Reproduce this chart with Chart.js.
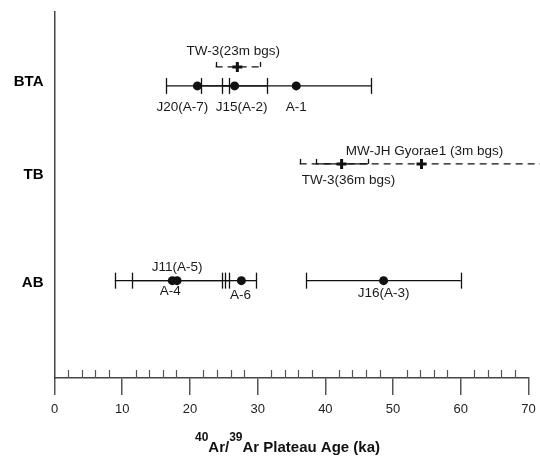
<!DOCTYPE html>
<html>
<head>
<meta charset="utf-8">
<script src="https://cdn.jsdelivr.net/npm/chart.js@4.4.0/dist/chart.umd.min.js"></script>
<style>
  html, body { margin: 0; padding: 0; background: #fff; }
  #wrap { width: 540px; height: 456px; position: relative; }
</style>
</head>
<body>
<div id="wrap"><canvas id="ageChart"></canvas></div>
<script>
// ===== Data =====
const rowNames = ['BTA', 'TB', 'AB'];
const rowTickValues = [81, 55.5, 26];

// outcrop samples (filled circles)
const outcropNames = ['J20(A-7)', 'J15(A-2)', 'A-1', 'A-4', 'J11(A-5)', 'A-6', 'J16(A-3)'];
const outcropLevel = [79.8, 79.8, 79.8, 26.6, 26.6, 26.6, 26.6];
const outcropAge = [21.1, 26.6, 35.7, 17.4, 18.1, 27.6, 48.6];
const outcropLow = [16.5, 21.7, 24.8, 8.9, 11.5, 25.2, 37.2];
const outcropHigh = [25.8, 31.4, 46.8, 25.7, 24.7, 29.8, 60.0];

// borehole samples (crosses)
const boreholeNames = ['TW-3(23m bgs)', 'TW-3(36m bgs)', 'MW-JH Gyorae1 (3m bgs)'];
const boreholeLevel = [85, 58.5, 58.5];
const boreholeAge = [27.0, 42.4, 54.2];
const boreholeLow = [23.8, 38.6, 36.2];
const boreholeHigh = [30.3, 46.3, 72.2];

const xTitleParts = [['40', true], ['Ar/', false], ['39', true], ['Ar Plateau Age (ka)', false]];

// ===== Styles =====
const FONT = "Arial, 'Liberation Sans', Helvetica, sans-serif";
const INK = '#111';
const dashedBars = ['TW-3(23m bgs)', 'MW-JH Gyorae1 (3m bgs)'];
// label offset from the marker, in px
const labelOffsets = {
    'J20(A-7)': [-15, 21.5],
    'J15(A-2)': [7, 21.5],
    'A-1': [0, 21.5],
    'A-4': [-2, 11],
    'J11(A-5)': [0, -13],
    'A-6': [-1, 15],
    'J16(A-3)': [0, 12.6],
    'TW-3(23m bgs)': [-4, -16],
    'TW-3(36m bgs)': [7, 16],
    'MW-JH Gyorae1 (3m bgs)': [3, -12.5]
};

// ===== Build sample list =====
const samples = [];
outcropNames.forEach((n, i) => samples.push({
    name: n, age: outcropAge[i], low: outcropLow[i], high: outcropHigh[i],
    level: outcropLevel[i], marker: 'circle', capUp: false
}));
boreholeNames.forEach((n, i) => samples.push({
    name: n, age: boreholeAge[i], low: boreholeLow[i], high: boreholeHigh[i],
    level: boreholeLevel[i], marker: 'cross', capUp: true
}));

const barSets = samples.map(s => {
    const dashed = dashedBars.includes(s.name);
    return {
        label: s.name,
        data: [{ x: s.low, y: s.level }, { x: s.high, y: s.level }],
        showLine: true,
        borderColor: INK,
        borderWidth: 1.3,
        borderDash: dashed ? [7, 5] : [],
        pointRadius: 0,
        clip: false,
        order: dashed ? 3 : 2
    };
});

const circleSet = {
    label: 'outcrop',
    data: samples.filter(s => s.marker === 'circle').map(s => ({ x: s.age, y: s.level })),
    pointStyle: 'circle',
    pointRadius: 4.5,
    backgroundColor: INK,
    borderColor: INK,
    borderWidth: 0,
    order: 0
};
const crossSet = {
    label: 'borehole',
    data: samples.filter(s => s.marker === 'cross').map(s => ({ x: s.age, y: s.level })),
    pointStyle: 'cross',
    pointRadius: 5,
    borderColor: INK,
    borderWidth: 3,
    order: 0
};

// ===== Plugins =====
const capPlugin = {
    id: 'errorCaps',
    beforeDatasetsDraw(chart) {
        const { ctx, scales: { x, y } } = chart;
        ctx.save();
        ctx.strokeStyle = INK;
        ctx.lineWidth = 1.3;
        samples.forEach(s => {
            const py = y.getPixelForValue(s.level);
            [s.low, s.high].forEach(v => {
                const px = Math.round(x.getPixelForValue(v)) + 0.5;
                if (px > chart.width) return;
                ctx.beginPath();
                if (s.capUp) { ctx.moveTo(px, py); ctx.lineTo(px, py - 5); }
                else { ctx.moveTo(px, py - 8); ctx.lineTo(px, py + 8); }
                ctx.stroke();
            });
        });
        ctx.restore();
    },
    afterDatasetsDraw(chart) {
        const { ctx, scales: { x, y } } = chart;
        ctx.save();
        ctx.fillStyle = '#1a1a1a';
        ctx.font = `13.5px ${FONT}`;
        ctx.textAlign = 'center';
        ctx.textBaseline = 'middle';
        samples.forEach(s => {
            const off = labelOffsets[s.name] || [0, 14];
            ctx.fillText(s.name, x.getPixelForValue(s.age) + off[0], y.getPixelForValue(s.level) + off[1]);
        });
        ctx.restore();
    }
};

const axisExtras = {
    id: 'axisExtras',
    afterDraw(chart) {
        const { ctx, chartArea, scales: { x } } = chart;
        ctx.save();
        // minor ticks above the x axis
        ctx.strokeStyle = '#555';
        ctx.lineWidth = 1.2;
        for (let v = 2; v < 70; v += 2) {
            if (v % 10 === 0) continue;
            const px = Math.round(x.getPixelForValue(v)) + 0.5;
            ctx.beginPath();
            ctx.moveTo(px, chartArea.bottom);
            ctx.lineTo(px, chartArea.bottom - 8);
            ctx.stroke();
        }
        // x axis title with superscripts
        const big = `bold 15px ${FONT}`, small = `bold 12px ${FONT}`;
        let total = 0;
        xTitleParts.forEach(([t, sup]) => { ctx.font = sup ? small : big; total += ctx.measureText(t).width; });
        let cx = (chartArea.left + chartArea.right) / 2 - total / 2 - 4;
        const base = 452;
        ctx.fillStyle = '#111';
        ctx.textBaseline = 'alphabetic';
        ctx.textAlign = 'left';
        xTitleParts.forEach(([t, sup]) => {
            ctx.font = sup ? small : big;
            ctx.fillText(t, cx, sup ? base - 11 : base);
            cx += ctx.measureText(t).width;
        });
        ctx.restore();
    }
};

// ===== Chart =====
const chartCtx = document.getElementById('ageChart').getContext('2d');
new Chart(chartCtx, {
    type: 'scatter',
    data: { datasets: [...barSets, circleSet, crossSet] },
    options: {
        responsive: true,
        maintainAspectRatio: false,
        animation: false,
        layout: { padding: { top: 12, right: 11.5, left: 0, bottom: 0 } },
        plugins: { legend: { display: false }, tooltip: { enabled: false } },
        scales: {
            x: {
                type: 'linear', min: 0, max: 70,
                ticks: { stepSize: 10, color: '#222', font: { size: 13, family: FONT }, padding: 7, maxRotation: 0 },
                grid: { display: true, drawOnChartArea: false, drawTicks: true, tickLength: 17, color: '#555', lineWidth: 1.5 },
                border: { display: true, color: '#444', width: 1.5 },
                afterFit: (s) => { s.height = 78; s.paddingLeft = 0; s.paddingRight = 0; }
            },
            y: {
                type: 'linear', min: 0, max: 100,
                afterBuildTicks: (s) => { s.ticks = rowTickValues.map(v => ({ value: v })); },
                ticks: {
                    callback: (v) => rowNames[rowTickValues.indexOf(v)],
                    color: '#000', font: { size: 15, weight: 'bold', family: FONT }, padding: 11
                },
                grid: { display: false, drawTicks: false },
                border: { display: true, color: '#444', width: 1.5 },
                afterFit: (s) => { s.width = 54.5; s.paddingTop = 0; s.paddingBottom = 0; }
            }
        }
    },
    plugins: [capPlugin, axisExtras]
});
</script>
</body>
</html>
